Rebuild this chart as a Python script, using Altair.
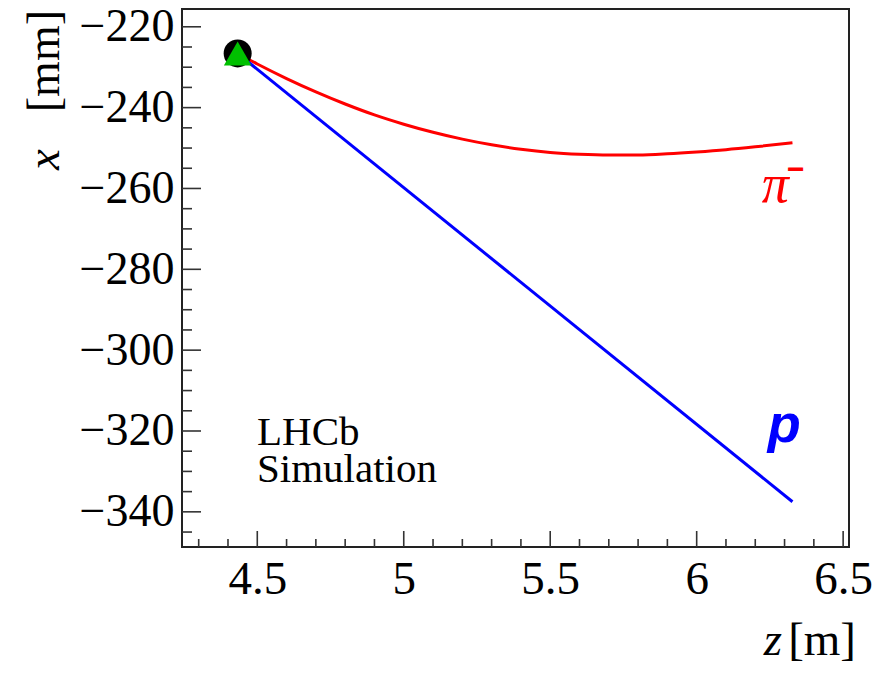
import altair as alt
import pandas as pd

# --- data ---
pi_z = [4.433, 4.5, 4.6, 4.7, 4.8, 4.9, 5.0, 5.1, 5.2, 5.3, 5.4, 5.5, 5.6, 5.7, 5.8, 5.9, 6.0, 6.1, 6.2, 6.327]
pi_x = [-226.6, -229.2, -232.8, -236.1, -239.1, -241.8, -244.1, -246.1, -247.8, -249.2, -250.3, -251.1, -251.55, -251.75, -251.7, -251.4, -250.95, -250.4, -249.7, -248.7]
p_z = [4.433, 6.327]
p_x = [-226.6, -337.5]
vertex_z = [4.433]
vertex_x = [-226.6]

z_major = [4.5, 5.0, 5.5, 6.0, 6.5]
z_minor = [4.3, 4.4, 4.6, 4.7, 4.8, 4.9, 5.1, 5.2, 5.3, 5.4, 5.6, 5.7, 5.8, 5.9, 6.1, 6.2, 6.3, 6.4]
x_major = [-220, -240, -260, -280, -300, -320, -340]
x_minor = [-225, -230, -235, -245, -250, -255, -265, -270, -275, -285, -290, -295,
           -305, -310, -315, -325, -330, -335, -345]

z_domain = [4.243, 6.52]
x_domain = [-348.7, -215.6]

W, H = 667, 538
SERIF = "Liberation Serif"
TICKC = "#333333"

xs = alt.Scale(domain=z_domain, nice=False, zero=False)
ys = alt.Scale(domain=x_domain, nice=False, zero=False)

pi_df = pd.DataFrame({"z": pi_z, "x": pi_x})
p_df = pd.DataFrame({"z": p_z, "x": p_x})
vtx_df = pd.DataFrame({"z": vertex_z, "x": vertex_x})

base_x = alt.X("z:Q", scale=xs,
               axis=alt.Axis(values=z_major, format="~g", title=None, grid=False,
                             ticks=False, domain=False, labelFont=SERIF,
                             labelFontSize=47, labelColor="black", labelPadding=9,
                             labelFlush=False))
base_y = alt.Y("x:Q", scale=ys,
               axis=alt.Axis(values=x_major, format="d", title=None, grid=False,
                             ticks=False, domain=False, labelFont=SERIF,
                             labelFontSize=46, labelColor="black", labelPadding=8,
                             labelFlush=False))

pi_line = alt.Chart(pi_df).mark_line(color="#ff0000", strokeWidth=3, interpolate="monotone").encode(
    x=base_x, y=base_y)
p_line = alt.Chart(p_df).mark_line(color="#0000ff", strokeWidth=3).encode(
    x=alt.X("z:Q", scale=xs), y=alt.Y("x:Q", scale=ys))
circ = alt.Chart(vtx_df).mark_point(shape="circle", filled=True, color="black", size=784, opacity=1).encode(
    x=alt.X("z:Q", scale=xs), y=alt.Y("x:Q", scale=ys))
tri = alt.Chart(vtx_df).mark_point(shape="triangle-up", filled=True, color="#00c000", size=760, opacity=1).encode(
    x=alt.X("z:Q", scale=xs), y=alt.Y("x:Q", scale=ys))

# ticks drawn inside the frame
zmaj_df = pd.DataFrame({"z": z_major})
zmin_df = pd.DataFrame({"z": z_minor})
xmaj_df = pd.DataFrame({"x": x_major})
xmin_df = pd.DataFrame({"x": x_minor})

zmaj = alt.Chart(zmaj_df).mark_rule(color=TICKC, strokeWidth=1.6).encode(
    x=alt.X("z:Q", scale=xs), y=alt.value(H), y2=alt.value(H - 16))
zmin = alt.Chart(zmin_df).mark_rule(color=TICKC, strokeWidth=1.6).encode(
    x=alt.X("z:Q", scale=xs), y=alt.value(H), y2=alt.value(H - 8))
xmaj = alt.Chart(xmaj_df).mark_rule(color=TICKC, strokeWidth=1.6).encode(
    y=alt.Y("x:Q", scale=ys), x=alt.value(0), x2=alt.value(19))
xmin = alt.Chart(xmin_df).mark_rule(color=TICKC, strokeWidth=1.6).encode(
    y=alt.Y("x:Q", scale=ys), x=alt.value(0), x2=alt.value(10))

# annotations
ann = pd.DataFrame({
    "z": [4.499, 4.499],
    "x": [-323.5, -332.6],
    "t": ["LHCb", "Simulation"],
})
lhcb = alt.Chart(ann).mark_text(font=SERIF, fontSize=41, align="left", baseline="alphabetic", color="black").encode(
    x=alt.X("z:Q", scale=xs), y=alt.Y("x:Q", scale=ys), text="t:N")

pi_lab = alt.Chart(pd.DataFrame({"z": [6.222], "x": [-263.3], "t": ["π"]})).mark_text(
    font=SERIF, fontSize=54, fontStyle="italic", align="left", baseline="alphabetic", color="#ff0000").encode(
    x=alt.X("z:Q", scale=xs), y=alt.Y("x:Q", scale=ys), text="t:N")
pi_minus = alt.Chart(pd.DataFrame({"z": [6.338], "x": [-255.4], "t": ["−"]})).mark_text(
    font="Liberation Sans", fontSize=30, fontWeight="bold", align="center", baseline="middle",
    color="#ff0000").encode(
    x=alt.X("z:Q", scale=xs), y=alt.Y("x:Q", scale=ys), text="t:N")
p_lab = alt.Chart(pd.DataFrame({"z": [6.243], "x": [-322.7], "t": ["p"]})).mark_text(
    font="Liberation Sans", fontSize=54, fontStyle="italic", fontWeight="bold", align="left",
    baseline="alphabetic", color="#0000ff").encode(
    x=alt.X("z:Q", scale=xs), y=alt.Y("x:Q", scale=ys), text="t:N")

# axis titles (italic variable + upright unit)
one = alt.Data(values=[{"a": 1}])
ztitle_unit = alt.Chart(one).mark_text(text="[m]", font=SERIF, fontSize=47, align="right",
                                        baseline="alphabetic", color="black").encode(
    x=alt.value(674), y=alt.value(646))
ztitle_var = alt.Chart(one).mark_text(text="z", font=SERIF, fontSize=47, fontStyle="italic", align="right",
                                       baseline="alphabetic", color="black").encode(
    x=alt.value(600), y=alt.value(646))
ytitle_unit = alt.Chart(one).mark_text(text="[mm]", font=SERIF, fontSize=46, align="right", angle=270,
                                        baseline="alphabetic", color="black").encode(
    x=alt.value(-123), y=alt.value(1))
ytitle_var = alt.Chart(one).mark_text(text="x", font=SERIF, fontSize=47, fontStyle="italic", align="left",
                                       angle=270, baseline="alphabetic", color="black").encode(
    x=alt.value(-123), y=alt.value(161))

chart = alt.layer(
    pi_line, p_line, circ, tri, zmaj, zmin, xmaj, xmin, lhcb, pi_lab, pi_minus, p_lab,
    ztitle_unit, ztitle_var, ytitle_unit, ytitle_var
).properties(
    width=W, height=H,
    autosize=alt.AutoSizeParams(type="none"),
    padding={"left": 182, "top": 9, "right": 35, "bottom": 129},
    background="white",
).configure_view(stroke="#222222", strokeWidth=2)

chart.save("out.html", embed_options={"renderer": "svg", "actions": False})
